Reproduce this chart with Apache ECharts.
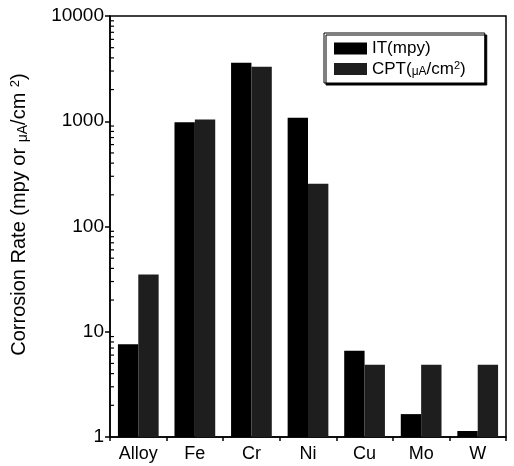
<!DOCTYPE html>
<html>
<head>
<meta charset="utf-8">
<script src="https://cdn.jsdelivr.net/npm/echarts@6/dist/echarts.min.js"></script>
<style>html,body{margin:0;padding:0;background:#fff;}#c{width:514px;height:466px;}</style>
</head>
<body>
<div id="c"></div>
<script>
var categories = ['Alloy', 'Fe', 'Cr', 'Ni', 'Cu', 'Mo', 'W'];
var itValues = [7.6, 980, 3600, 1080, 6.6, 1.65, 1.14];
var cptValues = [35, 1040, 3300, 255, 4.85, 4.85, 4.85];
var yTicks = [1, 10, 100, 1000, 10000];
var minorMultipliers = [2, 3, 4, 5, 6, 7, 8, 9];

var FONT = '"Liberation Sans", Arial, sans-serif';
var chart = echarts.init(document.getElementById('c'), null, {renderer: 'canvas'});
var GRID = {left: 110, right: 8, top: 16, bottom: 29};

chart.setOption({
  animation: false,
  backgroundColor: '#fff',
  grid: {left: GRID.left, right: GRID.right, top: GRID.top, bottom: GRID.bottom, show: true, borderColor: '#000', borderWidth: 1.5, backgroundColor: 'transparent'},
  legend: {
    orient: 'vertical',
    left: 324, top: 33,
    padding: [7, 19, 5, 10],
    itemWidth: 33, itemHeight: 12, itemGap: 3,
    backgroundColor: '#fff',
    borderColor: '#000', borderWidth: 1,
    shadowColor: '#000', shadowOffsetX: 2, shadowOffsetY: 2, shadowBlur: 0,
    icon: 'rect',
    textStyle: {
      fontFamily: FONT, fontSize: 17, color: '#000',
      rich: {
        s: {fontFamily: FONT, fontSize: 12, color: '#000', verticalAlign: 'bottom', padding: [6, 0, 0, 0]},
        sup: {fontFamily: FONT, fontSize: 11, color: '#000', verticalAlign: 'top', padding: [0, 0, 6, 0]},
        n: {fontFamily: FONT, fontSize: 17, color: '#000'}
      }
    },
    formatter: function (name) {
      if (name === 'CPT') return '{n|CPT(}{s|μA}{n|/cm}{sup|2}{n|)}';
      return 'IT(mpy)';
    },
    data: ['IT', 'CPT']
  },
  xAxis: {
    type: 'category',
    data: categories,
    boundaryGap: true,
    axisLine: {lineStyle: {color: '#000', width: 1.5}},
    axisTick: {show: true, length: 4, lineStyle: {color: '#000', width: 1.5}},
    axisLabel: {fontFamily: FONT, fontSize: 18, color: '#000', margin: 8},
    splitLine: {show: false}
  },
  yAxis: {
    type: 'log',
    logBase: 10,
    min: 1, max: 10000,
    name: 'Corrosion Rate (mpy or {s|μA}/cm {sup|2})',
    nameLocation: 'middle',
    nameGap: 80,
    nameRotate: 90,
    nameTextStyle: {
      fontFamily: FONT, fontSize: 20, color: '#000',
      padding: [0, 0, 0, 24],
      rich: {
        s: {fontFamily: FONT, fontSize: 14, color: '#000', verticalAlign: 'bottom', padding: [6, 0, 0, 0]},
        sup: {fontFamily: FONT, fontSize: 13, color: '#000', verticalAlign: 'top', padding: [0, 0, 8, 0]}
      }
    },
    axisLine: {show: true, lineStyle: {color: '#000', width: 1.5}},
    axisTick: {show: true, length: 5, lineStyle: {color: '#000', width: 1.5}},
    axisLabel: {
      fontFamily: FONT, fontSize: 19, color: '#000', margin: 6,
      formatter: function (v) { return yTicks.indexOf(Math.round(v)) >= 0 ? String(Math.round(v)) : ''; }
    },
    splitLine: {show: false}
  },
  series: [
    {name: 'IT', type: 'bar', data: itValues, barWidth: '36%', barGap: '0%', itemStyle: {color: '#000'}},
    {name: 'CPT', type: 'bar', data: cptValues, barWidth: '36%', barGap: '0%', itemStyle: {color: '#1e1e1e'}}
  ]
});

// log minor ticks (2..9 in each decade), positioned through the axis scale
var graphics = [];
for (var d = 0; d < yTicks.length - 1; d++) {
  for (var m = 0; m < minorMultipliers.length; m++) {
    var v = yTicks[d] * minorMultipliers[m];
    var py = chart.convertToPixel({yAxisIndex: 0}, v);
    graphics.push({
      type: 'line',
      shape: {x1: GRID.left, y1: py, x2: GRID.left + 4, y2: py},
      style: {stroke: '#000', lineWidth: 1.2},
      silent: true
    });
  }
}
chart.setOption({graphic: graphics});
</script>
</body>
</html>
